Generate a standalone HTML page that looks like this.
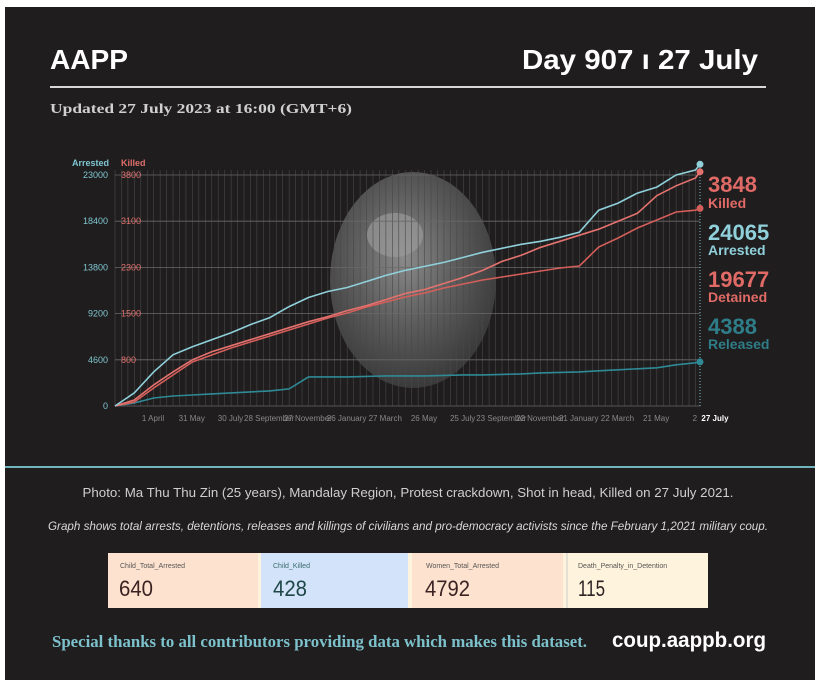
<!DOCTYPE html>
<html><head><meta charset="utf-8"><style>
html,body{margin:0;padding:0;background:#fff;}
svg{display:block;}
text{font-family:"Liberation Sans",sans-serif;}
.serif{font-family:"Liberation Serif",serif;}
</style></head><body>
<svg id="root" width="820" height="687" viewBox="0 0 820 687" xmlns="http://www.w3.org/2000/svg">
<defs>
<radialGradient id="photoG" cx="0.45" cy="0.4" r="0.6">
<stop offset="0" stop-color="#8a8a8a"/><stop offset="0.5" stop-color="#5e5e5e"/><stop offset="1" stop-color="#3a3a3a"/>
</radialGradient>
</defs>
<rect x="5" y="7" width="810" height="673" fill="#1f1d1e"/>
<text x="50" y="69" fill="#fff" font-size="28" font-weight="bold" textLength="78" lengthAdjust="spacingAndGlyphs">AAPP</text>
<text x="758" y="69" fill="#fff" font-size="28" font-weight="bold" text-anchor="end" textLength="236" lengthAdjust="spacingAndGlyphs">Day 907 ı 27 July</text>
<rect x="50" y="86" width="716" height="2" fill="#d8d8d8"/>
<text class="serif" x="50" y="113" fill="#d0d0d0" font-size="14" font-weight="bold" textLength="302" lengthAdjust="spacingAndGlyphs">Updated 27 July 2023 at 16:00 (GMT+6)</text>

<ellipse cx="413" cy="280" rx="83" ry="108" fill="url(#photoG)"/>
<ellipse cx="395" cy="235" rx="28" ry="22" fill="#9a9a9a" opacity="0.7"/>
<g id="chart"></g>

<rect x="5" y="466" width="810" height="2" fill="#6fb3bd"/>
<text x="408" y="497" fill="#cfcfcf" font-size="13" text-anchor="middle" textLength="651" lengthAdjust="spacingAndGlyphs">Photo: Ma Thu Thu Zin (25 years), Mandalay Region, Protest crackdown, Shot in head, Killed on 27 July 2021.</text>
<text x="408" y="530" fill="#d8d8d8" font-size="12" font-style="italic" text-anchor="middle" textLength="720" lengthAdjust="spacingAndGlyphs">Graph shows total arrests, detentions, releases and killings of civilians and pro-democracy activists since the February 1,2021 military coup.</text>

<g>
<rect x="108" y="553" width="600" height="55" fill="#fef3dc"/>
<rect x="108" y="553" width="150" height="55" fill="#fde2cf"/>
<rect x="261" y="553" width="147" height="55" fill="#d2e3fa"/>
<rect x="412" y="553" width="151" height="55" fill="#fde2cf"/>
<line x1="567" y1="553" x2="567" y2="608" stroke="#ccc" stroke-width="1"/>
<text x="120" y="568" font-size="7" fill="#555">Child_Total_Arrested</text>
<text x="273" y="568" font-size="7" fill="#3a6b6b">Child_Killed</text>
<text x="426" y="568" font-size="7" fill="#555">Women_Total_Arrested</text>
<text x="578" y="568" font-size="7" fill="#555">Death_Penalty_in_Detention</text>
<text x="119" y="596" font-size="22" fill="#3a2222" textLength="34" lengthAdjust="spacingAndGlyphs">640</text>
<text x="273" y="596" font-size="22" fill="#1e4646" textLength="34" lengthAdjust="spacingAndGlyphs">428</text>
<text x="425" y="596" font-size="22" fill="#3a2222" textLength="45" lengthAdjust="spacingAndGlyphs">4792</text>
<text x="578" y="596" font-size="22" fill="#2a2222" textLength="27" lengthAdjust="spacingAndGlyphs">115</text>
</g>

<text class="serif" x="52" y="647" fill="#7cc1cb" font-size="17" font-weight="bold" textLength="535" lengthAdjust="spacingAndGlyphs">Special thanks to all contributors providing data which makes this dataset.</text>
<text x="612" y="647" fill="#fff" font-size="21" font-weight="bold" textLength="154" lengthAdjust="spacingAndGlyphs">coup.aappb.org</text>
</svg>
<script>
const days=[0,30,60,90,120,150,180,210,240,270,300,330,360,390,420,450,480,510,540,570,600,630,660,690,720,750,780,810,840,870,900,907];
const arrested=[0,1300,3400,5100,5900,6600,7300,8100,8800,9900,10800,11400,11800,12400,13000,13500,13900,14300,14800,15300,15700,16100,16400,16800,17300,19500,20200,21200,21800,23000,23500,24065];
const detained=[0,398,1792,3086,4381,5078,5775,6372,6970,7567,8164,8762,9260,9857,10355,10853,11252,11750,12148,12546,12845,13144,13443,13741,13940,15832,16728,17723,18520,19317,19500,19677];
const released=[0,300,800,1000,1100,1200,1300,1400,1500,1700,2900,2900,2900,2950,3000,3000,3000,3050,3100,3100,3150,3200,3300,3350,3400,3500,3600,3700,3800,4100,4300,4388];
const killed=[0,104,365,591,800,922,1013,1104,1196,1287,1378,1454,1552,1639,1743,1848,1917,2022,2126,2248,2404,2509,2648,2752,2857,2961,3100,3219,3487,3636,3755,3848];
const arrestedTicks=[0,4600,9200,13800,18400,23000];
const killedTicks=[0,800,1500,2300,3100,3800];
const xTickLabels=["1 April","31 May","30 July","28 September","27 November","26 January","27 March","26 May","25 July","23 September","22 November","21 January","22 March","21 May","2"];
const xTickDays=[59,119,179,239,299,359,419,479,539,599,659,719,779,839,899];

const NS="http://www.w3.org/2000/svg";
const g=document.getElementById('chart');
const X0=115,X1=700,Y0=406,Y1=175,DMAX=907;
function xS(d){return X0+d/DMAX*(X1-X0);}
function yA(v){return Y0-v/23000*(Y0-Y1);}
function yK(v){
  const t=killedTicks;
  for(let i=1;i<t.length;i++){ if(v<=t[i]||i===t.length-1){
    const ya=yA(arrestedTicks[i-1]),yb=yA(arrestedTicks[i]);
    return ya+(v-t[i-1])/(t[i]-t[i-1])*(yb-ya);}}
}
function mk(tag,attrs){const e=document.createElementNS(NS,tag);for(const k in attrs)e.setAttribute(k,attrs[k]);g.appendChild(e);return e;}
for(let d=0;d<=DMAX;d+=10){
  const l=mk('line',{x1:xS(d),x2:xS(d),y1:Y1-5,y2:Y0,stroke:'#4a4848','stroke-width':0.6});
  
  
}
arrestedTicks.forEach((v,i)=>{
  const y=yA(v);
  const l=mk('line',{x1:X0,x2:X1,y1:y,y2:y,stroke:'#6a6868','stroke-width':0.8});
  
  
  const t=mk('text',{x:108,y:y+3,'font-size':9,fill:'#7fc6d0','text-anchor':'end'});
  t.textContent=v;
  
  
  if(i>0){
    const k=mk('text',{x:121,y:y+3,'font-size':9,fill:'#e0706c'});
    k.textContent=killedTicks[i];
    
    
  }
});
const ha=mk('text',{x:72,y:166,'font-size':9,'font-weight':'bold',fill:'#7fc6d0'});ha.textContent='Arrested';


const hk=mk('text',{x:121,y:166,'font-size':9,'font-weight':'bold',fill:'#e0706c'});hk.textContent='Killed';


xTickLabels.forEach((s,i)=>{
  const t=mk('text',{x:xS(xTickDays[i]),y:421,'font-size':8,fill:'#8a8888','text-anchor':'middle'});
  t.textContent=s;
  
  
});
const tl=mk('text',{x:715,y:421,'font-size':8,'font-weight':'bold',fill:'#fff','text-anchor':'middle'});tl.textContent='27 July';


const vl=mk('line',{x1:X1,x2:X1,y1:162,y2:406,stroke:'#7fc6d0','stroke-dasharray':'1,2','stroke-width':1});


function series(vals,yf,color,name){
  const pts=vals.map((v,i)=>xS(days[i]).toFixed(1)+','+yf(v).toFixed(1)).join(' ');
  const p=mk('polyline',{points:pts,fill:'none',stroke:color,'stroke-width':1.6});
  
  
  const n=vals.length-1;
  const c=mk('circle',{cx:xS(days[n]),cy:yf(vals[n]),r:3.5,fill:color});
  
  
}
series(released,yA,'#2f8a96','released');
series(detained,yA,'#d45e5a','detained');
series(killed,yK,'#e4726e','killed');
series(arrested,yA,'#8fd0da','arrested');
const labs=[["3848",192,'#e06a66',22,'killed-total'],["Killed",208,'#e06a66',14,'killed-caption'],["24065",240,'#8fd0da',22,'arrested-total'],["Arrested",255,'#8fd0da',14,'arrested-caption'],["19677",287,'#e06a66',22,'detained-total'],["Detained",302,'#e06a66',14,'detained-caption'],["4388",334,'#2f7d88',22,'released-total'],["Released",349,'#2f7d88',14,'released-caption']];
labs.forEach(a=>{
  const t=mk('text',{x:708,y:a[1],'font-size':a[3],'font-weight':'bold',fill:a[2]});
  t.textContent=a[0];
  
  
});
</script>
</body></html>
